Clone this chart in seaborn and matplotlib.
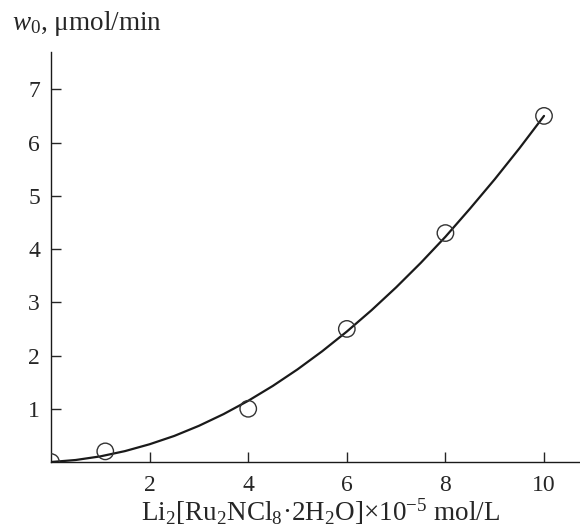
import matplotlib
matplotlib.use("Agg")
import matplotlib.pyplot as plt
import seaborn as sns
import pandas as pd

# measured points
conc = [0.0, 1.1, 4.0, 6.0, 8.0, 10.0]
rate = [0.0, 0.2, 1.0, 2.5, 4.3, 6.5]

# fitted curve
curve_x = [0, 0.5, 1, 1.5, 2, 2.5, 3, 3.5, 4, 4.5, 5, 5.5, 6, 6.5, 7, 7.5, 8, 8.5, 9, 9.5, 10]
curve_y = [0, 0.038, 0.106, 0.205, 0.334, 0.49, 0.68, 0.90, 1.15, 1.43, 1.74, 2.08, 2.45,
           2.85, 3.28, 3.74, 4.23, 4.76, 5.31, 5.89, 6.50]

x_ticks = [2, 4, 6, 8, 10]
y_ticks = [1, 2, 3, 4, 5, 6, 7]

sns.set_style("ticks")
plt.rcParams['font.family'] = ['Liberation Serif', 'DejaVu Serif']
plt.rcParams['mathtext.fontset'] = 'custom'
plt.rcParams['mathtext.rm'] = 'Liberation Serif'
plt.rcParams['mathtext.it'] = 'Liberation Serif:italic'

fig = plt.figure(figsize=(5.8, 5.27), dpi=100)
ax = fig.add_axes([0.088, 0.1233, 0.912, 0.778])

pts = pd.DataFrame({"x": conc, "y": rate})
cur = pd.DataFrame({"x": curve_x, "y": curve_y})

sns.lineplot(data=cur, x="x", y="y", ax=ax, color="#1a1a1a", linewidth=1.6, sort=True)
sns.scatterplot(data=pts, x="x", y="y", ax=ax, marker="o", s=140,
                facecolor="none", edgecolor="#333333", linewidth=1.0, zorder=3)

ax.set_xlim(0, 10.73)
ax.set_ylim(0, 7.7)
ax.set_xticks(x_ticks)
ax.set_yticks(y_ticks)
ax.tick_params(direction="in", length=7, width=1, labelsize=17, pad=8)
ax.tick_params(axis="x", pad=9)
sns.despine(ax=ax)
for s in ["left", "bottom"]:
    ax.spines[s].set_linewidth(1.0)
    ax.spines[s].set_color("#1a1a1a")

ax.set_xlabel(r"Li$_2$[Ru$_2$NCl$_8$·2H$_2$O]×10$^{-5}$ mol/L", fontsize=19.5, labelpad=0)
ax.xaxis.set_label_coords(0.51, -0.143)
ax.xaxis.label.set_va("baseline")
ax.set_ylabel("")
fig.text(0.02, 0.943, r"$w_0$, μmol/min", fontsize=19.5, ha="left", va="baseline")

fig.savefig("out.png", dpi=100)
